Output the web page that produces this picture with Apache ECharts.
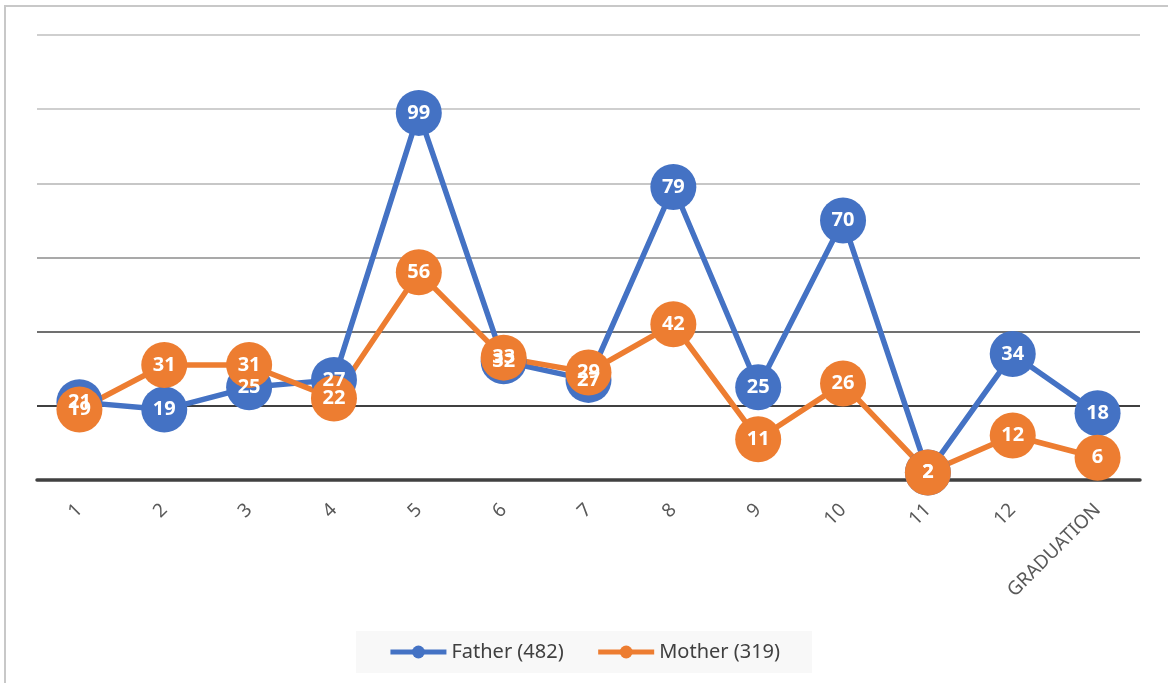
<!DOCTYPE html>
<html>
<head>
<meta charset="utf-8">
<script src="https://cdn.jsdelivr.net/npm/echarts@6/dist/echarts.min.js"></script>
<style>
  html, body { margin: 0; padding: 0; background: #fff; }
  #chart-container { width: 1168px; height: 683px; }
</style>
</head>
<body>
<div id="chart-container"></div>
<script>
var categories = ['1', '2', '3', '4', '5', '6', '7', '8', '9', '10', '11', '12', 'GRADUATION'];
var fatherValues = [21, 19, 25, 27, 99, 32, 27, 79, 25, 70, 2, 34, 18];
var motherValues = [19, 31, 31, 22, 56, 33, 29, 42, 11, 26, 2, 12, 6];
var seriesNames = ['Father (482)', 'Mother (319)'];

var dom = document.getElementById('chart-container');
var myChart = echarts.init(dom, null, { renderer: 'canvas' });

function lineSeries(name, values, color) {
  return {
    name: name,
    type: 'line',
    data: values,
    symbol: 'circle',
    symbolSize: 46,
    itemStyle: { color: color },
    lineStyle: { color: color, width: 5.5 },
    label: {
      show: true,
      position: 'inside',
      color: '#fff',
      fontWeight: 'bold',
      fontSize: 20,
      fontFamily: 'Noto Sans'
    },
    emphasis: { disabled: true },
    animation: false
  };
}

var option = {
  backgroundColor: '#fff',
  textStyle: { fontFamily: 'Noto Sans' },
  graphic: [{
    type: 'rect',
    shape: { x: 5, y: 6, width: 1200, height: 700 },
    style: { fill: 'none', stroke: '#c8c8c8', lineWidth: 2 },
    silent: true
  }],
  grid: { left: 37, right: 28, top: 35, bottom: 203 },
  legend: {
    bottom: 10,
    left: 'center',
    backgroundColor: '#f8f8f8',
    padding: [11, 32],
    itemGap: 32,
    itemWidth: 56,
    itemHeight: 16,
    lineStyle: { width: 5 },
    textStyle: { color: '#404040', fontSize: 20, fontFamily: 'Noto Sans' },
    data: seriesNames
  },
  xAxis: {
    type: 'category',
    data: categories,
    boundaryGap: true,
    axisLine: { show: true, lineStyle: { color: '#404040', width: 3.5 } },
    axisTick: { show: false },
    axisLabel: { rotate: 45, color: '#595959', fontSize: 19, margin: 27 }
  },
  yAxis: {
    type: 'value',
    min: 0,
    max: 120,
    interval: 20,
    axisLine: { show: false },
    axisTick: { show: false },
    axisLabel: { show: false },
    splitLine: {
      lineStyle: {
        width: 1.5,
        color: ['#404040', '#000000', '#404040', '#8c8c8c', '#b4b4b4', '#bfbfbf', '#bfbfbf']
      }
    }
  },
  series: [
    lineSeries(seriesNames[0], fatherValues, '#4472c4'),
    lineSeries(seriesNames[1], motherValues, '#ed7d31')
  ]
};

myChart.setOption(option);
window.addEventListener('resize', myChart.resize);
</script>
</body>
</html>
